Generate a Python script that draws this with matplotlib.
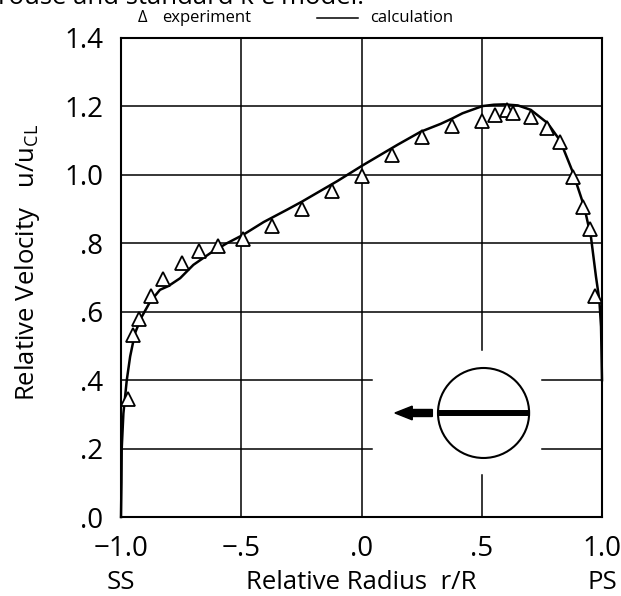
import matplotlib
matplotlib.use("Agg")
import matplotlib.pyplot as plt
from matplotlib.lines import Line2D
from matplotlib.patches import Ellipse

plt.rcParams["font.family"] = ["Open Sans", "DejaVu Sans"]
plt.rcParams["mathtext.fontset"] = "custom"
plt.rcParams["mathtext.rm"] = "Open Sans"
plt.rcParams["mathtext.it"] = "Open Sans"

# measured velocity (triangles)
exp_r = [-0.970, -0.949, -0.924, -0.876, -0.824, -0.747, -0.674, -0.597, -0.494,
         -0.372, -0.247, -0.122, 0.003, 0.128, 0.253, 0.378, 0.503, 0.554,
         0.604, 0.628, 0.704, 0.771, 0.826, 0.878, 0.923, 0.950, 0.970]
exp_u = [0.344, 0.532, 0.578, 0.647, 0.696, 0.741, 0.776, 0.792, 0.812,
         0.851, 0.899, 0.954, 0.997, 1.058, 1.112, 1.144, 1.158, 1.175,
         1.190, 1.180, 1.168, 1.136, 1.095, 0.993, 0.907, 0.841, 0.647]

# calculated profile (solid line)
calc_r = [-1.0, -0.998, -0.997, -0.990, -0.976, -0.962, -0.942, -0.914, -0.879,
          -0.838, -0.803, -0.754, -0.699, -0.629, -0.560, -0.494, -0.407, -0.310,
          -0.247, -0.100, 0.003, 0.150, 0.246, 0.329, 0.378, 0.420, 0.503,
          0.550, 0.593, 0.650, 0.704, 0.774, 0.826, 0.878, 0.926, 0.954,
          0.975, 0.989, 0.996, 1.0]
calc_u = [0.0, 0.1, 0.2, 0.303, 0.400, 0.469, 0.537, 0.585, 0.629,
          0.664, 0.675, 0.698, 0.737, 0.771, 0.800, 0.824, 0.862, 0.898,
          0.922, 0.982, 1.027, 1.088, 1.126, 1.149, 1.165, 1.180, 1.201,
          1.205, 1.206, 1.203, 1.190, 1.151, 1.100, 1.009, 0.907, 0.819,
          0.702, 0.634, 0.556, 0.400]

xticks = [-1.0, -0.5, 0.0, 0.5, 1.0]
xticklabels = ["\u22121.0", "\u2212.5", ".0", ".5", "1.0"]
yticks = [0.0, 0.2, 0.4, 0.6, 0.8, 1.0, 1.2, 1.4]
yticklabels = [".0", ".2", ".4", ".6", ".8", "1.0", "1.2", "1.4"]

fig = plt.figure(figsize=(6.21, 5.96), dpi=100)
ax = fig.add_axes([121 / 621, 1 - 517 / 596, 481 / 621, 479 / 596])
ax.set_xlim(-1.0, 1.0)
ax.set_ylim(0.0, 1.4)

# grid, broken around the blade sketch
gkw = dict(color="black", lw=1.1, zorder=1)
ax.plot([-0.5, -0.5], [0, 1.4], **gkw)
ax.plot([0.0, 0.0], [0, 1.4], **gkw)
ax.plot([0.5, 0.5], [0, 0.123], **gkw)
ax.plot([0.5, 0.5], [0.488, 1.4], **gkw)
for yy in [0.2, 0.4]:
    ax.plot([-1.0, 0.045], [yy, yy], **gkw)
    ax.plot([0.749, 1.0], [yy, yy], **gkw)
for yy in [0.6, 0.8, 1.0, 1.2]:
    ax.plot([-1.0, 1.0], [yy, yy], **gkw)

ax.plot(calc_r, calc_u, color="black", lw=1.8, zorder=3, clip_on=False)
ax.plot(exp_r, exp_u, linestyle="none", marker="^", ms=10, mfc="white",
        mec="black", mew=1.3, zorder=4)

# blade sketch: circle, blade and rotation arrow
ax.add_patch(Ellipse((0.5075, 0.304), 0.379, 0.263, fill=False,
                     ec="black", lw=1.5, zorder=3))
ax.plot([0.317, 0.696], [0.304, 0.304], color="black", lw=4.3,
        solid_capstyle="butt", zorder=3)
ax.arrow(0.2946, 0.304, -0.1556, 0.0, width=0.0205, head_width=0.040,
         head_length=0.072, length_includes_head=True, fc="black",
         ec="black", zorder=3)

ax.set_xticks(xticks)
ax.set_xticklabels(xticklabels)
ax.set_yticks(yticks)
ax.set_yticklabels(yticklabels)
ax.tick_params(axis="both", length=0, labelsize=20)
ax.tick_params(axis="x", pad=13)
ax.tick_params(axis="y", pad=13)
for sp in ax.spines.values():
    sp.set_linewidth(1.5)

tr = ax.get_xaxis_transform()
ax.text(-1.0, -0.136, "SS", transform=tr, ha="center", va="center", fontsize=18.5)
ax.text(0.0, -0.136, "Relative Radius  r/R", transform=tr, ha="center",
        va="center", fontsize=18.5)
ax.text(1.0, -0.136, "PS", transform=tr, ha="center", va="center", fontsize=18.5)

fig.text(28 / 621, 1 - 262 / 596, r"Relative Velocity   u/u$_{\mathrm{CL}}$",
         rotation=90, ha="center", va="center", fontsize=18.5)

# legend line at the top
fig.text(142 / 621, 1 - 18 / 596, "\u0394", ha="center", va="center", fontsize=12)
fig.text(162 / 621, 1 - 18 / 596, "experiment", ha="left", va="center", fontsize=12)
fig.add_artist(Line2D([317 / 621, 358 / 621], [1 - 18 / 596, 1 - 18 / 596],
                      color="black", lw=1.1))
fig.text(370 / 621, 1 - 18 / 596, "calculation", ha="left", va="center", fontsize=12)

# caption line cut off by the top edge
fig.text(-2 / 621, 1 - 4 / 596, "rouse and standard k-\u03b5 model.", ha="left",
         va="baseline", fontsize=18.5)

fig.savefig("out.png", dpi=100)
